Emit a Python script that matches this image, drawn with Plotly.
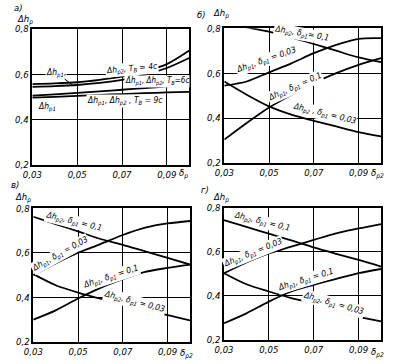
import plotly.graph_objects as go

# ---------------- data ----------------
x_vals = [0.03, 0.04, 0.05, 0.06, 0.07, 0.08, 0.09, 0.10]

# panel a (x: delta_p)
a_dhp2_T4 = [0.557, 0.560, 0.565, 0.576, 0.590, 0.613, 0.645, 0.705]
a_dhp1_T4 = [0.545, 0.548, 0.553, 0.562, 0.576, 0.598, 0.628, 0.672]
a_T6 = [0.506, 0.512, 0.518, 0.525, 0.532, 0.539, 0.547, 0.555]
a_T9 = [0.497, 0.501, 0.505, 0.509, 0.513, 0.517, 0.520, 0.523]

# panel b
b_dhp2_d01 = [0.822, 0.804, 0.785, 0.759, 0.730, 0.700, 0.670, 0.649]
b_dhp1_d003 = [0.545, 0.563, 0.604, 0.644, 0.689, 0.726, 0.753, 0.756]
b_dhp1_d01 = [0.304, 0.378, 0.447, 0.504, 0.556, 0.600, 0.637, 0.667]
b_dhp2_d003 = [0.563, 0.504, 0.452, 0.415, 0.388, 0.363, 0.338, 0.319]

# panel c
c_dhp2_d01 = [0.762, 0.729, 0.696, 0.662, 0.636, 0.606, 0.577, 0.547]
c_dhp1_d003 = [0.499, 0.552, 0.600, 0.639, 0.680, 0.713, 0.732, 0.743]
c_dhp1_d01 = [0.299, 0.341, 0.394, 0.442, 0.481, 0.514, 0.532, 0.547]
c_dhp2_d003 = [0.504, 0.454, 0.421, 0.394, 0.371, 0.346, 0.319, 0.296]

# panel d
d_dhp2_d01 = [0.744, 0.713, 0.682, 0.652, 0.620, 0.591, 0.563, 0.533]
d_dhp1_d003 = [0.503, 0.552, 0.593, 0.623, 0.654, 0.684, 0.706, 0.726]
d_dhp1_d01 = [0.276, 0.321, 0.374, 0.420, 0.450, 0.477, 0.503, 0.522]
d_dhp2_d003 = [0.503, 0.453, 0.420, 0.390, 0.367, 0.337, 0.306, 0.284]

x_ticks = [0.03, 0.05, 0.07, 0.09]
x_tick_text = ["0,03", "0,05", "0,07", "0,09"]
y_ticks = [0.2, 0.4, 0.6, 0.8]
y_tick_text = ["0,2", "0,4", "0,6", "0,8"]

FONT = "DejaVu Sans Condensed, Liberation Sans Narrow, DejaVu Sans, sans-serif"

fig = go.Figure()

panels = [
    ("x", "y", [a_dhp2_T4, a_dhp1_T4, a_T6, a_T9]),
    ("x2", "y2", [b_dhp2_d01, b_dhp1_d003, b_dhp1_d01, b_dhp2_d003]),
    ("x3", "y3", [c_dhp2_d01, c_dhp1_d003, c_dhp1_d01, c_dhp2_d003]),
    ("x4", "y4", [d_dhp2_d01, d_dhp1_d003, d_dhp1_d01, d_dhp2_d003]),
]
for xa, ya, series in panels:
    for s in series:
        fig.add_trace(go.Scatter(x=x_vals, y=s, mode="lines", xaxis=xa, yaxis=ya,
                                 line=dict(color="black", width=1.8, shape="spline", smoothing=0.8),
                                 showlegend=False, hoverinfo="skip"))

domains = {
    1: ([0.0810, 0.4744], [0.5467, 0.9203]),
    2: ([0.5622, 0.9549], [0.5522, 0.9223]),
    3: ([0.0835, 0.4762], [0.0613, 0.4277]),
    4: ([0.5614, 0.9549], [0.0659, 0.4294]),
}
for i, (dx, dy) in domains.items():
    sx = "" if i == 1 else str(i)
    fig.update_layout(**{
        f"xaxis{sx}": dict(domain=dx, range=[0.03, 0.1], anchor=f"y{sx}",
                           tickvals=x_ticks, ticktext=x_tick_text,
                           showgrid=True, gridcolor="black", gridwidth=1,
                           showline=True, linecolor="black", linewidth=1.5, mirror=True,
                           ticks="", zeroline=False, automargin=False,
                           tickfont=dict(size=9.5, family=FONT, style="italic", color="black")),
        f"yaxis{sx}": dict(domain=dy, range=[0.2, 0.8], anchor=f"x{sx}",
                           tickvals=y_ticks, ticktext=y_tick_text,
                           showgrid=True, gridcolor="black", gridwidth=1,
                           showline=True, linecolor="black", linewidth=1.5, mirror=True,
                           ticks="", zeroline=False, automargin=False,
                           tickfont=dict(size=9.5, family=FONT, style="italic", color="black")),
    })

ann = []
def lab(text, x, y, xref, yref, angle=0, size=8.5, bg=True):
    ann.append(dict(text=text, x=x, y=y, xref=xref, yref=yref, showarrow=False,
                    textangle=angle, font=dict(size=size, family=FONT, color="black", style="italic"),
                    bgcolor="white" if bg else None, borderpad=0, xanchor="center", yanchor="middle"))

# panel a
lab("Δh<sub>p2</sub>, T<sub>B</sub> = 4c", 0.0743, 0.622, "x", "y", -5)
lab("Δh<sub>p1</sub>, Δh<sub>p2</sub>, T<sub>B</sub>=6c", 0.0856, 0.567, "x", "y", 0, 8)
lab("Δh<sub>p1</sub>, Δh<sub>p2</sub> , T<sub>B</sub> = 9c", 0.0714, 0.484, "x", "y", 0)
lab("Δh<sub>p1</sub>", 0.0364, 0.456, "x", "y", 0)
ann.append(dict(text="Δh<sub>p1</sub>,", x=0.0477, y=0.555, xref="x", yref="y", showarrow=True,
                arrowhead=0, arrowwidth=1, arrowcolor="black", ax=-16, ay=-12,
                font=dict(size=8.5, family=FONT, color="black", style="italic"),
                bgcolor="white", borderpad=0))
# panel b
lab("Δh<sub>p2</sub>, δ<sub>p1</sub>= 0,1", 0.0646, 0.775, "x2", "y2", 10)
lab("Δh<sub>p1</sub>, δ<sub>p1</sub> = 0,03", 0.049, 0.659, "x2", "y2", -19)
lab("Δh<sub>p1</sub>, δ<sub>p1</sub> = 0,1", 0.0616, 0.54, "x2", "y2", -24)
lab("Δh<sub>p2</sub> , δ<sub>p1</sub> = 0,03", 0.0746, 0.419, "x2", "y2", 14)
# panel c
lab("Δh<sub>p2</sub>, δ<sub>p1</sub> = 0,1", 0.0482, 0.74, "x3", "y3", 14)
lab("Δh<sub>p1</sub>, δ<sub>p1</sub> = 0,03", 0.0422, 0.593, "x3", "y3", -29)
lab("Δh<sub>p1</sub>, δ<sub>p1</sub> = 0,1", 0.0646, 0.492, "x3", "y3", -18)
lab("Δh<sub>p2</sub>, δ<sub>p1</sub> = 0,03", 0.075, 0.377, "x3", "y3", 15)
# panel d
lab("Δh<sub>p2</sub>, δ<sub>p1</sub> = 0,1", 0.0468, 0.734, "x4", "y4", 14)
lab("Δh<sub>p1</sub>, δ<sub>p1</sub> = 0,03", 0.0431, 0.593, "x4", "y4", -22)
lab("Δh<sub>p1</sub>, δ<sub>p1</sub> = 0,1", 0.0664, 0.472, "x4", "y4", -17)
lab("Δh<sub>p2</sub>, δ<sub>p1</sub> = 0,03", 0.079, 0.363, "x4", "y4", 16)

# panel letters & axis titles (paper coords from pixel positions)
def paper(px, py):
    return px / 399, 1 - py / 364
for text, px, py in [("а)", 18, 7), ("Δh<sub>p</sub>", 25, 19),
                     ("б)", 201, 15), ("Δh<sub>p</sub>", 221, 14),
                     ("в)", 15, 184), ("Δh<sub>p</sub>", 23, 197),
                     ("г)", 205, 189), ("Δh<sub>p</sub>", 221, 197),
                     ("δ<sub>p</sub>", 183, 173), ("δ<sub>p2</sub>", 377, 173),
                     ("δ<sub>p2</sub>", 186, 353), ("δ<sub>p2</sub>", 377, 352)]:
    x, y = paper(px, py)
    lab(text, x, y, "paper", "paper", 0, 9.5, bg=False)

fig.update_layout(width=399, height=364, margin=dict(l=0, r=0, t=0, b=0),
                  paper_bgcolor="white", plot_bgcolor="white",
                  font=dict(family=FONT, color="black", size=10, style="italic"),
                  annotations=ann)

fig.write_html("out.html", config={"displayModeBar": False},
               post_script="document.body.style.margin='0';document.body.style.overflow='hidden';")
